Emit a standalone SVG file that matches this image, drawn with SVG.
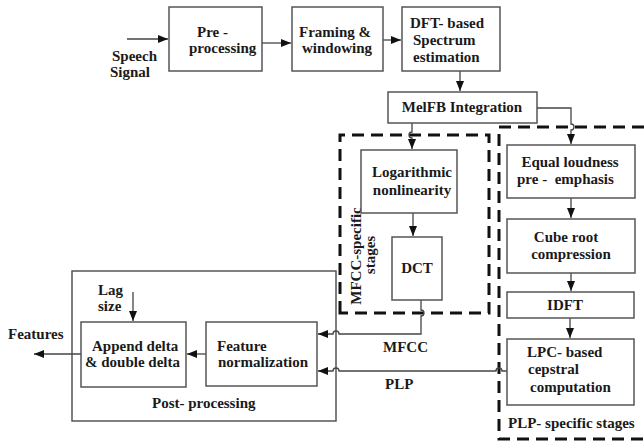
<svg xmlns="http://www.w3.org/2000/svg" width="644" height="445" viewBox="0 0 644 445" font-family="Liberation Serif, serif" font-weight="bold" font-size="15">
<style>
.box{fill:#fff;stroke:#555;stroke-width:1.5}
.dash{fill:none;stroke:#111;stroke-width:3;stroke-dasharray:12 7}
.t{fill:#1a1a1a}
.c{text-anchor:middle}
.ln{fill:none;stroke:#444;stroke-width:1.3}
</style>
<defs>
<marker id="ah" markerWidth="11" markerHeight="9" refX="10" refY="4" orient="auto" markerUnits="userSpaceOnUse">
<path d="M0,0 L10,4 L0,8 z" fill="#111"/>
</marker>
</defs>

<g id="mfcc-stages">
<path class="dash" d="M340,313 V135 H489 V313 Z"/>
<text class="t c" transform="translate(361,256) rotate(-90)">MFCC-specific</text>
<text class="t c" transform="translate(375,255) rotate(-90)">stages</text>
</g>
<g id="plp-stages">
<path class="dash" d="M644,127 H499 V439 H644"/>
<text class="t" x="508" y="428">PLP- specific stages</text>
</g>
<g id="post-processing">
<rect class="box" x="72" y="271" width="264" height="150"/>
<text class="t" x="152" y="408">Post- processing</text>
</g>

<g id="connectors">
<line class="ln" x1="127" y1="39" x2="168" y2="39" marker-end="url(#ah)"/>
<line class="ln" x1="262" y1="43" x2="291" y2="43" marker-end="url(#ah)"/>
<line class="ln" x1="383" y1="40" x2="401" y2="40" marker-end="url(#ah)"/>
<line class="ln" x1="460" y1="71" x2="460" y2="91" marker-end="url(#ah)"/>
<path class="ln" d="M412,123 V132 a3,3 0 0 0 0,6 V149" marker-end="url(#ah)"/>
<path class="ln" d="M537,108 H571 V124 a3,3 0 0 1 0,6 V144" marker-end="url(#ah)"/>
<line class="ln" x1="413" y1="213" x2="413" y2="236" marker-end="url(#ah)"/>
<path class="ln" d="M421,300 V310 a3,3 0 0 1 0,6 V334 H339 a3,3 0 0 0 -6,0 H318" marker-end="url(#ah)"/>
<line class="ln" x1="571" y1="198" x2="571" y2="218" marker-end="url(#ah)"/>
<line class="ln" x1="571" y1="273" x2="571" y2="291" marker-end="url(#ah)"/>
<line class="ln" x1="570" y1="318" x2="570" y2="338" marker-end="url(#ah)"/>
<path class="ln" d="M507,371 H502 a3,3 0 0 0 -6,0 H339 a3,3 0 0 0 -6,0 H318" marker-end="url(#ah)"/>
<line class="ln" x1="206" y1="354" x2="187" y2="354" marker-end="url(#ah)"/>
<line class="ln" x1="81" y1="354" x2="34" y2="354" marker-end="url(#ah)"/>
<line class="ln" x1="133" y1="292" x2="133" y2="321" marker-end="url(#ah)"/>
</g>

<g id="speech-signal">
<text class="t" x="112" y="61">Speech</text>
<text class="t" x="110" y="77">Signal</text>
</g>
<g id="pre-processing">
<rect class="box" x="169" y="7" width="93" height="64"/>
<text class="t" x="197" y="37">Pre -</text>
<text class="t" x="189" y="53">processing</text>
</g>
<g id="framing">
<rect class="box" x="292" y="7" width="91" height="64"/>
<text class="t" x="299" y="37">Framing &amp;</text>
<text class="t" x="302" y="53">windowing</text>
</g>
<g id="dft">
<rect class="box" x="402" y="7" width="98" height="64"/>
<text class="t" x="410" y="28">DFT- based</text>
<text class="t" x="413" y="45">Spectrum</text>
<text class="t" x="413" y="62">estimation</text>
</g>
<g id="melfb">
<rect class="box" x="388" y="92" width="149" height="31"/>
<text class="t c" x="462" y="112">MelFB Integration</text>
</g>
<g id="log">
<rect class="box" x="361" y="150" width="96" height="63"/>
<text class="t c" x="412" y="177">Logarithmic</text>
<text class="t c" x="412" y="195">nonlinearity</text>
</g>
<g id="dct">
<rect class="box" x="392" y="237" width="50" height="63"/>
<text class="t c" x="417" y="273">DCT</text>
</g>
<g id="equal-loudness">
<rect class="box" x="507" y="145" width="128" height="53"/>
<text class="t c" x="570" y="167">Equal loudness</text>
<text class="t" x="517" y="184" xml:space="preserve">pre -  emphasis</text>
</g>
<g id="cube-root">
<rect class="box" x="507" y="219" width="128" height="54"/>
<text class="t c" x="566" y="242">Cube root</text>
<text class="t c" x="571" y="259">compression</text>
</g>
<g id="idft">
<rect class="box" x="507" y="292" width="127" height="26"/>
<text class="t c" x="565" y="310">IDFT</text>
</g>
<g id="lpc">
<rect class="box" x="507" y="339" width="127" height="66"/>
<text class="t" x="527" y="357">LPC- based</text>
<text class="t" x="528" y="374">cepstral</text>
<text class="t" x="530" y="392">computation</text>
</g>
<g id="feature-normalization">
<rect class="box" x="206" y="322" width="111" height="64"/>
<text class="t" x="217" y="351">Feature</text>
<text class="t" x="218" y="367">normalization</text>
</g>
<g id="append-delta">
<rect class="box" x="81" y="322" width="105" height="65"/>
<text class="t" x="92" y="351">Append delta</text>
<text class="t" x="85" y="367">&amp; double delta</text>
</g>
<g id="lag-size">
<text class="t" x="98" y="295">Lag</text>
<text class="t" x="98" y="311">size</text>
</g>
<g id="features">
<text class="t" x="8" y="339">Features</text>
</g>
<g id="labels">
<text class="t" x="383" y="352">MFCC</text>
<text class="t" x="385" y="389">PLP</text>
</g>
</svg>
